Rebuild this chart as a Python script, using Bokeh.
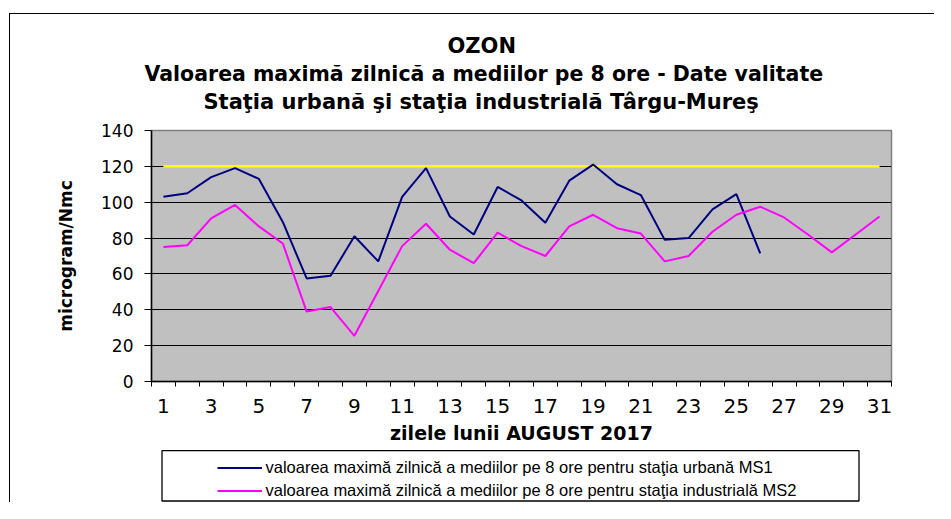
from bokeh.plotting import figure
from bokeh.models import (FixedTicker, Legend, LegendItem, Range1d, Title, BoxAnnotation)
from bokeh.layouts import column
from bokeh.embed import file_html
from bokeh.resources import INLINE

# ---- data ----
days = list(range(1, 32))
ms1_days = list(range(1, 27))
ms1 = [103, 105, 114, 119, 113, 89, 57.5, 59, 81, 67, 103, 119, 92, 82, 108.5,
       101, 88.5, 112, 121, 110, 104, 79, 80, 96, 104.5, 71.5]
ms2 = [75, 76, 91, 98.5, 86.5, 77, 39, 41.5, 25.5, 50.5, 75.5, 88, 73.5, 66, 83,
       75.5, 70, 86.5, 93, 85.5, 82.5, 67, 70, 83.5, 93, 97.5, 91.5, 82, 72, 82, 92]
limit = 120
limit_line = [limit for _ in days]
y_ticks = [0, 20, 40, 60, 80, 100, 120, 140]
x_label_days = [1, 3, 5, 7, 9, 11, 13, 15, 17, 19, 21, 23, 25, 27, 29, 31]

title_lines = ["OZON",
               "Valoarea maximă zilnică a mediilor pe 8 ore - Date valitate",
               "Staţia urbană şi staţia industrială Târgu-Mureş"]
title_offsets = [296, -7, 52]
title_sizes = ["21px", "20.5px", "21px"]
x_title = "zilele lunii AUGUST 2017"
y_title = "microgram/Nmc"
legend_labels = ["valoarea maximă zilnică a mediilor pe 8 ore pentru staţia urbană MS1",
                 "valoarea maximă zilnică a mediilor pe 8 ore pentru staţia industrială MS2"]

NAVY, MAGENTA, YELLOW = "#000080", "#FF00FF", "#FFFF00"

# ---- main chart ----
W, H1, H2 = 924, 435, 53
FRAME_W = 740
p = figure(width=W, height=H1, output_backend="svg", toolbar_location=None,
           x_range=Range1d(0.5, 31.5), y_range=Range1d(0, 140),
           min_border_left=141, min_border_right=43, min_border_top=116, min_border_bottom=68)
p.background_fill_color = "#C0C0C0"
p.border_fill_color = "white"
p.outline_line_color = "#808080"
p.outline_line_width = 1.5

xa = p.below[0]
ya = p.left[0]

# blank spacer between the frame and the title block
p.add_layout(Title(text=" ", text_font_size="1px", standoff=13), "above")
# titles (bottom line first: later titles stack further out)
for txt, off, fs in reversed(list(zip(title_lines, title_offsets, title_sizes))):
    p.add_layout(Title(text=txt, align="left", offset=off, standoff=2,
                       text_font="DejaVu Sans", text_font_style="bold",
                       text_font_size=fs, text_color="black"), "above")

xa.ticker = FixedTicker(ticks=x_label_days, minor_ticks=[d - 0.5 for d in days] + [31.5])
xa.major_tick_out = 0
xa.major_tick_in = 0
xa.minor_tick_out = 5
xa.minor_tick_in = 0
xa.minor_tick_line_color = "black"
xa.axis_line_color = "black"
xa.axis_line_width = 1.5
xa.major_label_text_font = "DejaVu Sans"
xa.major_label_text_font_size = "20px"
xa.major_label_text_color = "black"
xa.major_label_standoff = 12
xa.axis_label = x_title
xa.axis_label_text_font = "DejaVu Sans"
xa.axis_label_text_font_style = "bold"
xa.axis_label_text_font_size = "19px"
xa.axis_label_text_color = "black"
xa.axis_label_standoff = 6

ya.ticker = FixedTicker(ticks=y_ticks)
ya.major_tick_out = 7
ya.major_tick_in = 0
ya.minor_tick_out = 0
ya.minor_tick_in = 0
ya.major_tick_line_color = "black"
ya.axis_line_color = "black"
ya.axis_line_width = 1.5
ya.major_label_text_font = "DejaVu Sans"
ya.major_label_text_font_size = "17px"
ya.major_label_text_color = "black"
ya.major_label_standoff = 11
ya.axis_label = y_title
ya.axis_label_text_font = "DejaVu Sans"
ya.axis_label_text_font_style = "bold"
ya.axis_label_text_font_size = "17px"
ya.axis_label_text_color = "black"
ya.axis_label_standoff = 22

p.xgrid.visible = False
p.ygrid.ticker = FixedTicker(ticks=[20, 40, 60, 80, 100, 120])
p.ygrid.grid_line_color = "black"
p.ygrid.grid_line_width = 1

p.line(days, limit_line, line_color=YELLOW, line_width=2.5)
p.line(ms1_days, ms1, line_color=NAVY, line_width=2)
p.line(days, ms2, line_color=MAGENTA, line_width=2)

# ---- legend strip: its frame is aligned with the chart frame (1 data unit == 1 px) ----
q = figure(width=W, height=H2, output_backend="svg", toolbar_location=None,
           x_range=Range1d(0, FRAME_W), y_range=Range1d(0, H2),
           x_axis_type=None, y_axis_type=None, min_border=0)
q.outline_line_color = None
q.background_fill_color = "white"
q.border_fill_color = "white"
q.grid.visible = False
nan = float("nan")
l1 = q.line([nan], [nan], line_color=NAVY, line_width=2)
l2 = q.line([nan], [nan], line_color=MAGENTA, line_width=2)

q.add_layout(BoxAnnotation(left=10.5, right=707.5, bottom=1.5, top=51.8,
                           fill_alpha=0, line_color="black", line_alpha=1,
                           line_width=1.3))
legend = Legend(items=[LegendItem(label=legend_labels[0], renderers=[l1]),
                       LegendItem(label=legend_labels[1], renderers=[l2])],
                location=(65.5, 2.5), orientation="vertical",
                padding=0, margin=0, spacing=4,
                glyph_width=45, glyph_height=15, label_height=15, label_standoff=4,
                label_text_font="Liberation Sans", label_text_font_size="16.5px",
                label_text_color="black",
                border_line_alpha=0, background_fill_alpha=0)
q.add_layout(legend, "center")

layout = column(p, q, spacing=0)
layout.margin = (13, 0, 0, 9)
layout.styles = {"border-top": "1.5px solid black", "border-left": "1.5px solid black"}

open("out.html", "w").write(file_html(layout, INLINE))
